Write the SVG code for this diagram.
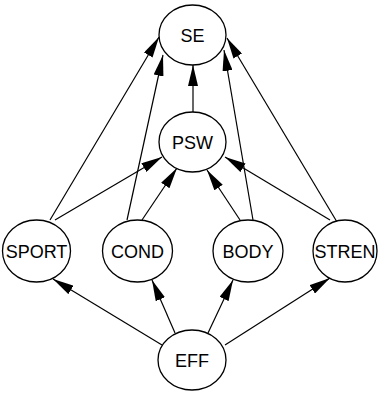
<svg xmlns="http://www.w3.org/2000/svg" width="379" height="393" viewBox="0 0 379 393">
<defs>
<marker id="ah" markerUnits="userSpaceOnUse" markerWidth="21" markerHeight="10" refX="21" refY="5" orient="auto">
<path d="M0,0 L21,5 L0,10 z" fill="#000"/>
</marker>
<style>
.n ellipse{fill:#fff;stroke:#000;stroke-width:1.3}
.n text{font-family:"Liberation Sans",Arial,sans-serif;font-size:18px;text-anchor:middle;fill:#000}
#edges line{stroke:#000;stroke-width:1.2;marker-end:url(#ah)}
</style>
</defs>
<rect width="379" height="393" fill="#fff"/>
<g id="edges">
<line x1="50" y1="220" x2="159" y2="37"/>
<line x1="127" y1="220" x2="163" y2="55"/>
<line x1="193" y1="112" x2="193" y2="65"/>
<line x1="253" y1="220" x2="224" y2="50"/>
<line x1="337" y1="222" x2="227" y2="38"/>
<line x1="55" y1="220" x2="162" y2="157"/>
<line x1="142" y1="220" x2="177" y2="168"/>
<line x1="240" y1="220" x2="207" y2="170"/>
<line x1="330" y1="220" x2="225" y2="157"/>
<line x1="162" y1="345" x2="53" y2="279"/>
<line x1="175" y1="333" x2="152" y2="280"/>
<line x1="208" y1="333" x2="233" y2="280"/>
<line x1="225" y1="345" x2="330" y2="278"/>
</g>
<g id="SE" class="n"><ellipse cx="192.5" cy="35" rx="33.5" ry="30"/><text x="192.5" y="41.5">SE</text></g>
<g id="PSW" class="n"><ellipse cx="192.5" cy="142" rx="33.5" ry="30"/><text x="192.5" y="148.5">PSW</text></g>
<g id="SPORT" class="n"><ellipse cx="36.5" cy="251" rx="34" ry="31"/><text x="36.5" y="257.5">SPORT</text></g>
<g id="COND" class="n"><ellipse cx="137.5" cy="251" rx="35" ry="31"/><text x="137.5" y="257.5">COND</text></g>
<g id="BODY" class="n"><ellipse cx="248" cy="251" rx="35" ry="31"/><text x="248" y="257.5">BODY</text></g>
<g id="STREN" class="n"><ellipse cx="345" cy="251" rx="32" ry="31"/><text x="345" y="257.5">STREN</text></g>
<g id="EFF" class="n"><ellipse cx="192" cy="360" rx="34" ry="30"/><text x="192" y="366.5">EFF</text></g>
</svg>
